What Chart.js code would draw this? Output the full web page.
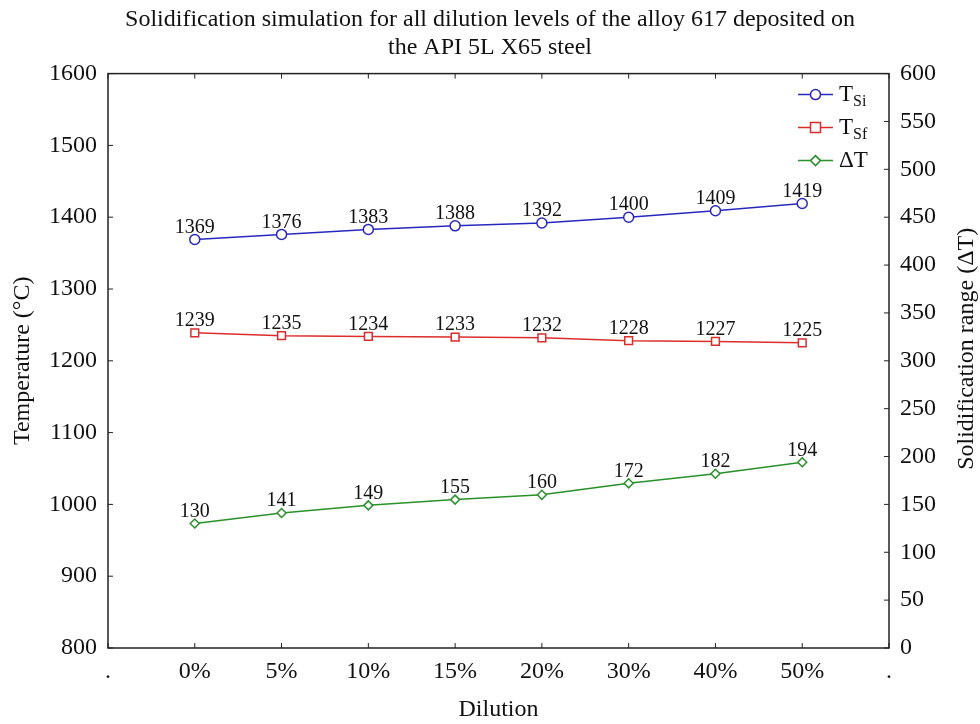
<!DOCTYPE html>
<html>
<head>
<meta charset="utf-8">
<script src="https://cdn.jsdelivr.net/npm/chart.js@4/dist/chart.umd.min.js"></script>
<style>
  html, body { margin: 0; padding: 0; background: #fff; }
  #wrap { width: 980px; height: 724px; }
</style>
</head>
<body>
<div id="wrap"><canvas id="chart" width="980" height="724"></canvas></div>
<script>
// Dilution levels (end dots are empty padding categories, as in the original)
const categories = ['.', '0%', '5%', '10%', '15%', '20%', '30%', '40%', '50%', '.'];

// Solidification start / finish temperatures (°C) and range (ΔT)
const tSi = [null, 1369, 1376, 1383, 1388, 1392, 1400, 1409, 1419, null];
const tSf = [null, 1239, 1235, 1234, 1233, 1232, 1228, 1227, 1225, null];
const deltaT = [null, 130, 141, 149, 155, 160, 172, 182, 194, null];

const titleLines = [
  'Solidification simulation for all dilution levels of the alloy 617 deposited on',
  'the API 5L X65 steel'
];
const rightTitle = 'Solidification range (\u0394T)';

const SERIF = "'Liberation Serif', 'Times New Roman', serif";
const BLUE = 'rgb(40, 40, 190)';
const RED = 'rgb(220, 45, 45)';
const GREEN = 'rgb(40, 145, 40)';

// Frame around the plot with short inward tick marks, plus the right axis title
const framePlugin = {
  id: 'frame',
  afterDraw(chart) {
    const { ctx, chartArea: a, scales } = chart;
    const len = 5;
    ctx.save();
    ctx.strokeStyle = '#222';
    ctx.lineWidth = 1.5;
    ctx.strokeRect(a.left, a.top, a.right - a.left, a.bottom - a.top);
    ctx.lineWidth = 1;
    ctx.beginPath();
    scales.x.ticks.forEach((t, i) => {
      const x = scales.x.getPixelForTick(i);
      ctx.moveTo(x, a.bottom); ctx.lineTo(x, a.bottom - len);
      ctx.moveTo(x, a.top); ctx.lineTo(x, a.top + len);
    });
    scales.y.ticks.forEach(t => {
      const y = scales.y.getPixelForValue(t.value);
      ctx.moveTo(a.left, y); ctx.lineTo(a.left + len, y);
    });
    scales.y1.ticks.forEach(t => {
      const y = scales.y1.getPixelForValue(t.value);
      ctx.moveTo(a.right, y); ctx.lineTo(a.right - len, y);
    });
    ctx.stroke();

    // right axis title reads bottom-to-top
    ctx.translate(967, (a.top + a.bottom) / 2 - 12);
    ctx.rotate(-Math.PI / 2);
    ctx.fillStyle = '#111';
    ctx.font = '24px ' + SERIF;
    ctx.textAlign = 'center';
    ctx.textBaseline = 'middle';
    ctx.fillText(rightTitle, 0, 0);
    ctx.restore();
  }
};

// Value labels above every point
const valueLabels = {
  id: 'valueLabels',
  afterDatasetsDraw(chart) {
    const { ctx } = chart;
    ctx.save();
    ctx.fillStyle = '#111';
    ctx.font = '20px ' + SERIF;
    ctx.textAlign = 'center';
    ctx.textBaseline = 'middle';
    chart.data.datasets.forEach((ds, di) => {
      const meta = chart.getDatasetMeta(di);
      meta.data.forEach((pt, i) => {
        const v = ds.data[i];
        if (v == null) return;
        ctx.fillText(String(v), pt.x, pt.y - 12);
      });
    });
    ctx.restore();
  }
};

// Legend with subscripts, drawn inside the top-right corner
const subLegend = {
  id: 'subLegend',
  afterDraw(chart) {
    const { ctx, chartArea: a } = chart;
    const items = [
      { main: 'T', sub: 'Si', ds: 0 },
      { main: 'T', sub: 'Sf', ds: 1 },
      { main: '\u0394T', sub: '', ds: 2 }
    ];
    ctx.save();
    items.forEach((it, k) => {
      const ds = chart.data.datasets[it.ds];
      const y = a.top + 21 + k * 33;
      const x0 = a.right - 91, x1 = a.right - 56, mx = (x0 + x1) / 2;
      ctx.strokeStyle = ds.borderColor;
      ctx.lineWidth = 1.5;
      ctx.beginPath(); ctx.moveTo(x0, y); ctx.lineTo(x1, y); ctx.stroke();
      ctx.fillStyle = '#fff';
      ctx.beginPath();
      if (ds.pointStyle === 'circle') {
        ctx.arc(mx, y, 5, 0, Math.PI * 2);
      } else if (ds.pointStyle === 'rect') {
        ctx.rect(mx - 5, y - 5, 10, 10);
      } else {
        ctx.moveTo(mx, y - 5); ctx.lineTo(mx + 5, y); ctx.lineTo(mx, y + 5); ctx.lineTo(mx - 5, y); ctx.closePath();
      }
      ctx.fill(); ctx.stroke();
      ctx.fillStyle = '#111';
      ctx.textBaseline = 'middle';
      ctx.textAlign = 'left';
      ctx.font = '23px ' + SERIF;
      ctx.fillText(it.main, x1 + 6, y);
      const w = ctx.measureText(it.main).width;
      if (it.sub) {
        ctx.font = '16px ' + SERIF;
        ctx.fillText(it.sub, x1 + 6 + w, y + 7);
      }
    });
    ctx.restore();
  }
};

function series(label, data, color, style, radius, axis) {
  return {
    label, data, yAxisID: axis,
    borderColor: color,
    backgroundColor: '#fff',
    borderWidth: 1.5,
    pointStyle: style,
    pointRadius: radius,
    pointBorderWidth: 1.5,
    pointBackgroundColor: '#fff',
    pointBorderColor: color,
    tension: 0
  };
}

const tickFont = { family: SERIF, size: 24 };
const plain = v => String(v);

new Chart(document.getElementById('chart'), {
  type: 'line',
  data: {
    labels: categories,
    datasets: [
      series('TSi', tSi, BLUE, 'circle', 5, 'y'),
      series('TSf', tSf, RED, 'rect', 5.5, 'y'),
      series('\u0394T', deltaT, GREEN, 'rectRot', 4.5, 'y1')
    ]
  },
  options: {
    responsive: false,
    animation: false,
    layout: { padding: 0 },
    plugins: {
      legend: { display: false },
      tooltip: { enabled: false },
      title: {
        display: true,
        text: titleLines,
        color: '#111',
        font: { family: SERIF, size: 24, weight: 'normal', lineHeight: 1.2 },
        padding: { top: 5, bottom: 11 }
      }
    },
    scales: {
      x: {
        type: 'category',
        offset: false,
        grid: { display: false, drawTicks: false },
        border: { display: false },
        ticks: { color: '#111', font: tickFont, padding: 9, autoSkip: false, maxRotation: 0 },
        title: { display: true, text: 'Dilution', color: '#111', font: tickFont, padding: { top: 0, bottom: 0 } },
        afterFit(s) { s.height = 76; }
      },
      y: {
        position: 'left',
        min: 800, max: 1600,
        grid: { display: false, drawTicks: false },
        border: { display: false },
        ticks: { stepSize: 100, color: '#111', font: tickFont, padding: 11, callback: plain },
        title: { display: true, text: 'Temperature (\u00B0C)', color: '#111', font: tickFont, padding: { top: 8, bottom: 0 } },
        afterFit(s) { s.width = 108; }
      },
      y1: {
        position: 'right',
        min: 0, max: 600,
        grid: { display: false, drawTicks: false },
        border: { display: false },
        ticks: { stepSize: 50, color: '#111', font: tickFont, padding: 11, callback: plain },
        title: { display: false },
        afterFit(s) { s.width = 91; }
      }
    }
  },
  plugins: [framePlugin, valueLabels, subLegend]
});
</script>
</body>
</html>
